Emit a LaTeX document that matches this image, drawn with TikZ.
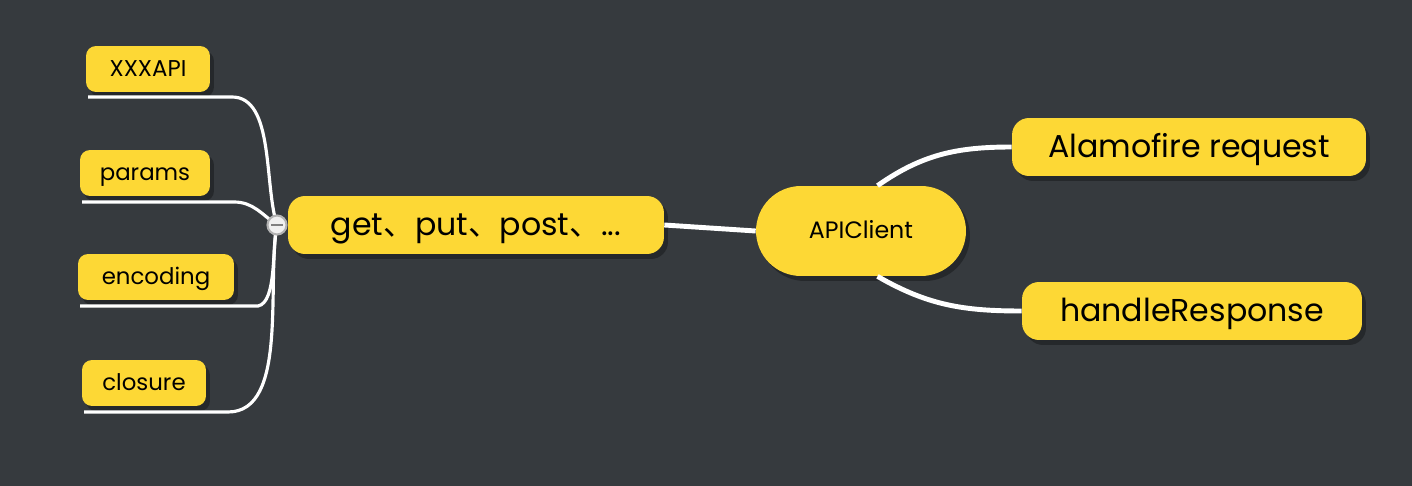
\documentclass[tikz,border=0pt]{standalone}
\usepackage{fontspec}
\setmainfont{Poppins}
\newfontfamily\cjk{Noto Sans CJK SC}
\usepackage{tikz}
\usetikzlibrary{positioning, shadows, calc}
\definecolor{board}{HTML}{363A3E}
\definecolor{topic}{HTML}{FDD835}

\begin{document}
\begin{tikzpicture}[x=0.02cm, y=-0.02cm,
        topicbox/.style={draw=none, fill=topic, rounded corners=0.34cm,
          drop shadow={shadow xshift=0.08cm, shadow yshift=-0.1cm, fill=black, opacity=0.3}},
        bigtext/.style={font=\fontsize{18}{22}\selectfont, text height=13pt, text depth=1.5pt},
        smalltext/.style={font=\fontsize{13}{15}\selectfont, text height=9.4pt, text depth=1pt},
        leaf/.style={topicbox, smalltext, rounded corners=0.2cm, minimum height=0.92cm},
        branch/.style={draw=white, line width=1.8pt},
        trunk/.style={draw=white, line width=2.8pt}]
        \fill[board] (0,0) rectangle (1412,486);

        \node[topicbox, bigtext, minimum width=7.52cm, minimum height=1.16cm] (get) at (476,225) {get{\cjk 、}put{\cjk 、}post{\cjk 、}...};
        \node[topicbox, smalltext, font=\fontsize{13.5}{16}\selectfont, rounded corners=0.9cm, minimum width=4.2cm, minimum height=1.8cm] (api) at (861,231) {APIClient};
        \node[topicbox, bigtext, minimum width=7.08cm, minimum height=1.16cm] (req) at (1189,147) {Alamofire request};
        \node[topicbox, bigtext, minimum width=6.8cm, minimum height=1.16cm] (resp) at (1192,311) {handleResponse};

        \node[leaf, minimum width=2.48cm] (xxx) at (148,69) {XXXAPI};
        \node[leaf, minimum width=2.6cm] (params) at (145,173) {params};
        \node[leaf, minimum width=3.12cm] (enc) at (156,277) {encoding};
        \node[leaf, minimum width=2.48cm] (clos) at (144,383) {closure};

        % underlines of the leaves
        \coordinate (xxxa) at (88,97);   \coordinate (xxxb) at (232,97);
        \coordinate (para) at (82,202);  \coordinate (parb) at (234,202);
        \coordinate (enca) at (80,306);  \coordinate (encb) at (258,306);
        \coordinate (closa) at (84,412); \coordinate (closb) at (228,412);

        \coordinate (knob) at (277,225);

        \draw[branch] (xxxa) -- (xxxb) to[out=0, in=108, looseness=0.8] (knob);
        \draw[branch] (para) -- (parb) to[out=0, in=145] (knob);
        \draw[branch] (enca) -- (encb) to[out=10, in=-105, looseness=0.6] (knob);
        \draw[branch] (closa) -- (closb) to[out=0, in=-100, looseness=0.8] (knob);

        \node[circle, draw=gray!60, fill=gray!12, line width=1.2pt, inner sep=0pt, minimum size=0.38cm] (fold) at (knob) {};
        \draw[gray, line width=1.2pt] ($(fold)+(-6,0)$) -- ($(fold)+(6,0)$);

        \draw[trunk] (get.east) -- (api.west);
        \draw[trunk] (api.70) to[out=35, in=180] (req.west);
        \draw[trunk] (api.-70) to[out=-30, in=180] (resp.west);

        \useasboundingbox (0,0) rectangle (1412,486);
     \end{tikzpicture}
\end{document}
